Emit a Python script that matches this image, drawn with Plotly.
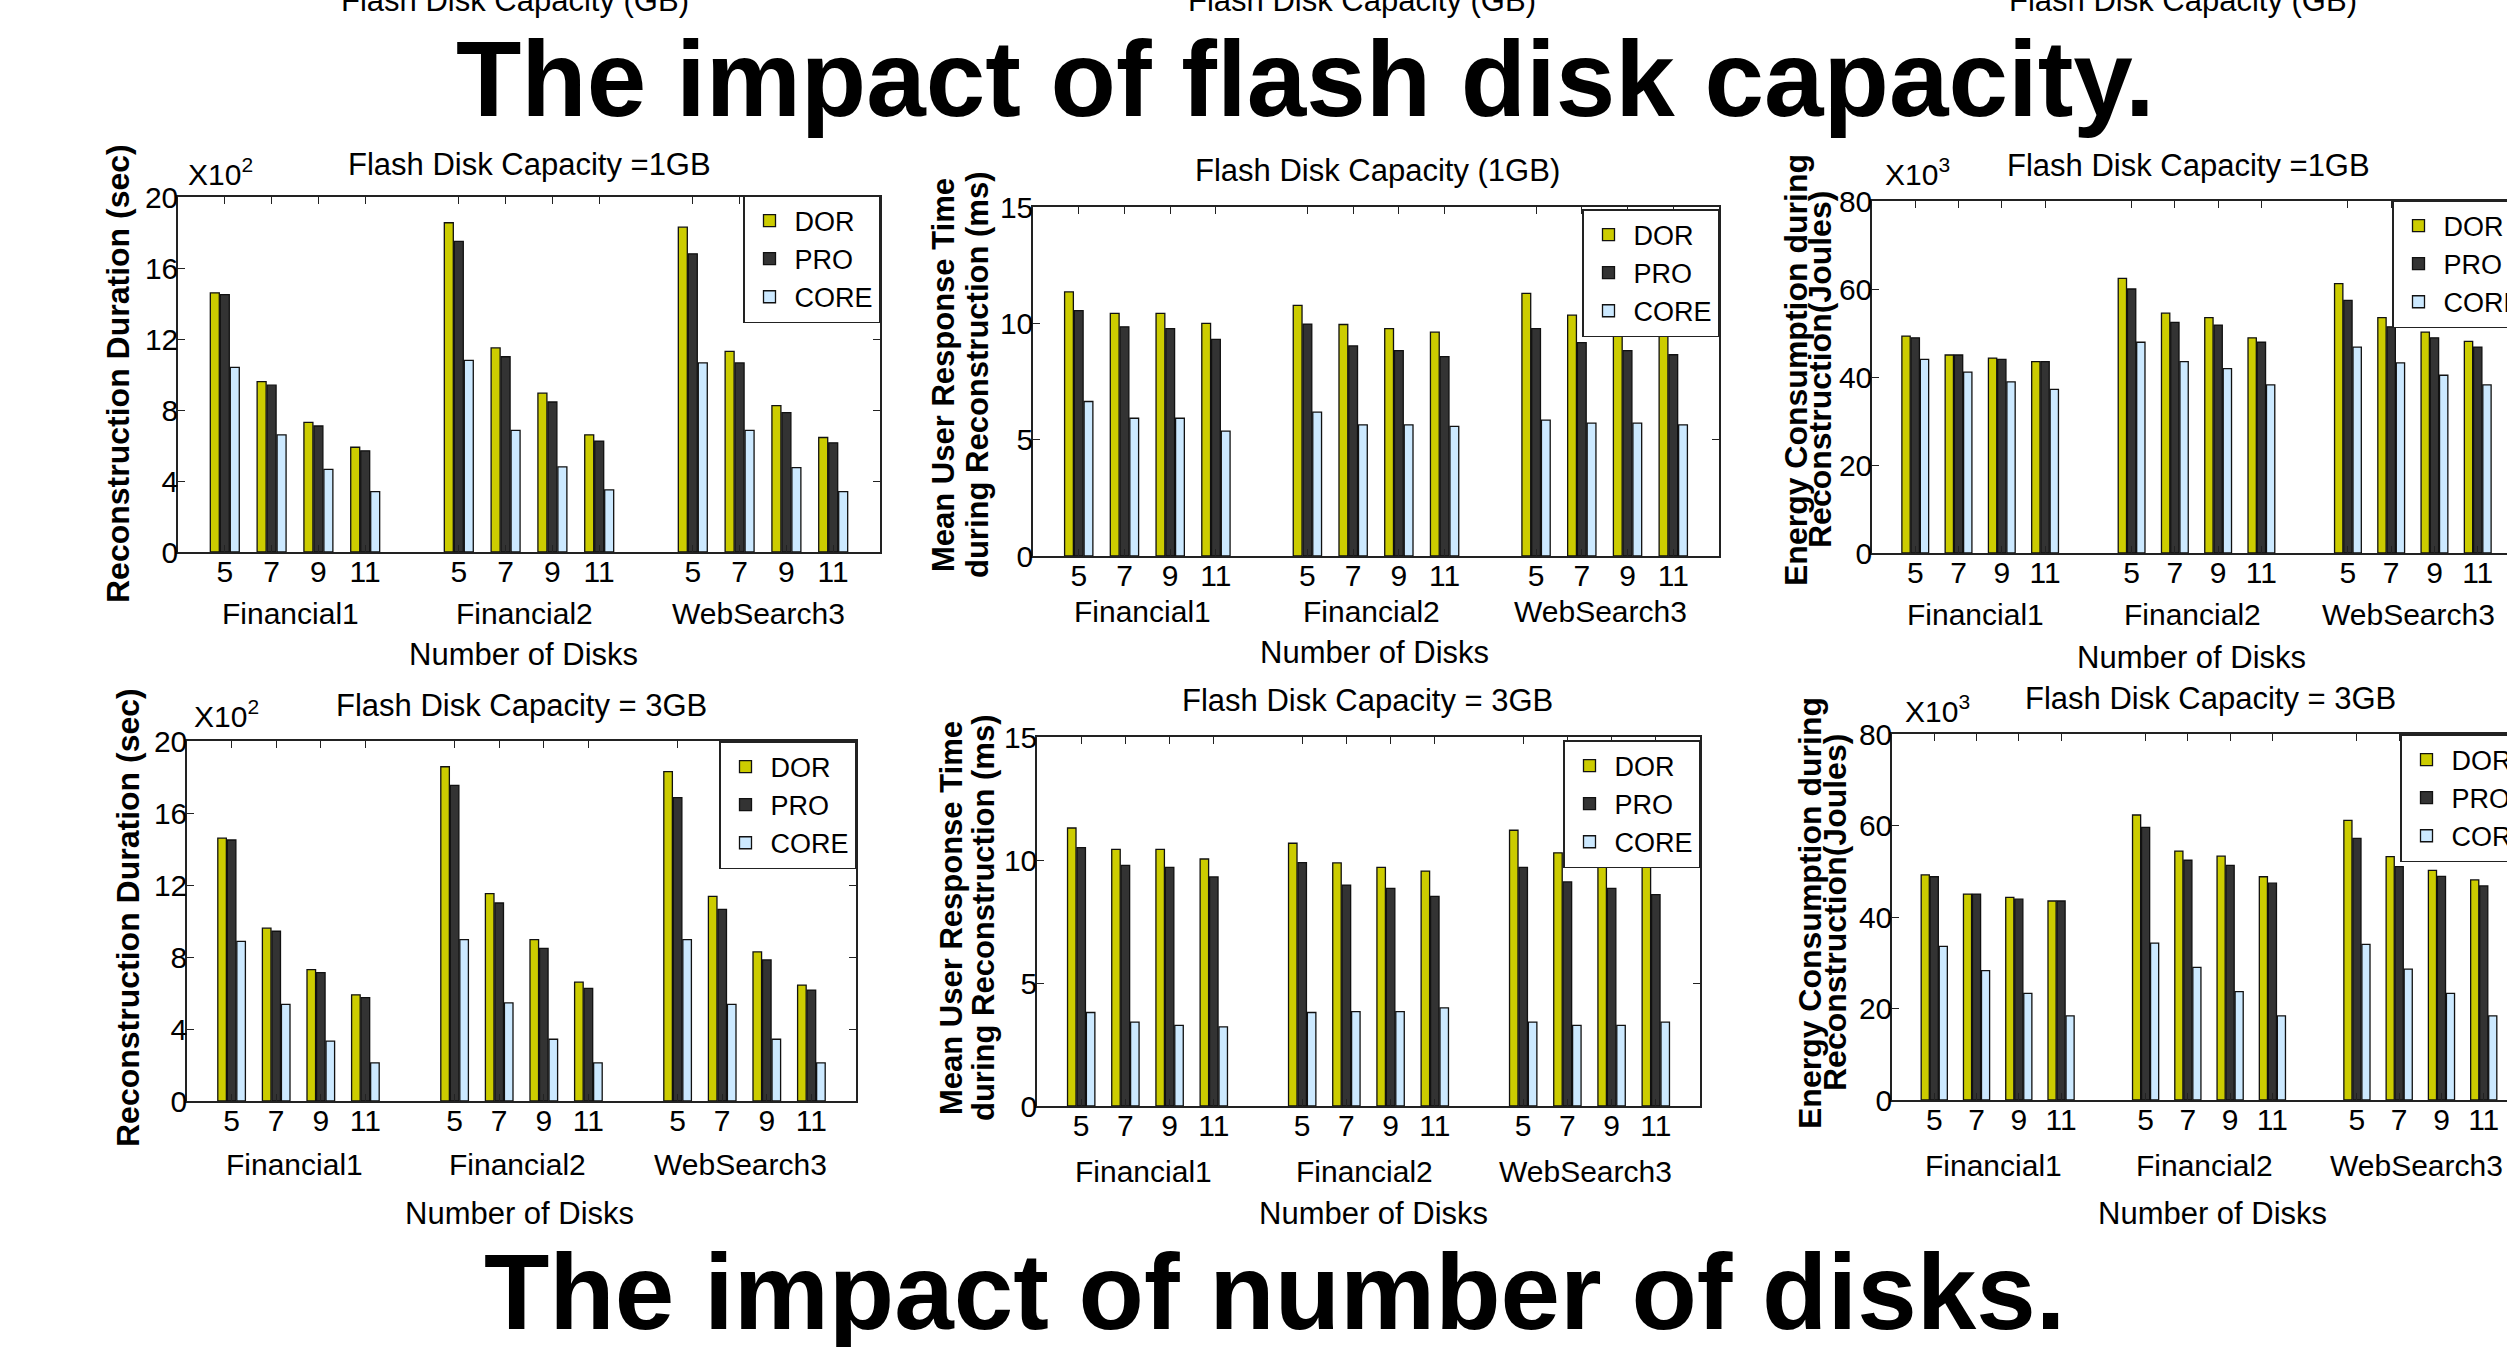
import plotly.graph_objects as go

W, H = 2507, 1347
FONT = "Liberation Sans, Arial, sans-serif"

# ---------------- data ----------------
workloads = ["Financial1", "Financial2", "WebSearch3"]
disk_counts = [5, 7, 9, 11]
schemes = ["DOR", "PRO", "CORE"]
scheme_colors = ["#CCCC00", "#333333", "#CCE9FF"]

# Reconstruction duration (x10^2 sec)
recon_1gb_dor = [14.6, 9.6, 7.3, 5.9, 18.55, 11.5, 8.95, 6.6, 18.3, 11.3, 8.25, 6.45]
recon_1gb_pro = [14.5, 9.4, 7.1, 5.7, 17.5, 11.0, 8.45, 6.25, 16.8, 10.65, 7.85, 6.15]
recon_1gb_core = [10.4, 6.6, 4.65, 3.4, 10.8, 6.85, 4.8, 3.5, 10.65, 6.85, 4.75, 3.4]
recon_3gb_dor = [14.6, 9.6, 7.3, 5.9, 18.57, 11.52, 8.97, 6.6, 18.3, 11.37, 8.28, 6.44]
recon_3gb_pro = [14.5, 9.43, 7.13, 5.74, 17.54, 11.0, 8.48, 6.26, 16.85, 10.65, 7.84, 6.16]
recon_3gb_core = [8.87, 5.37, 3.33, 2.12, 8.97, 5.45, 3.43, 2.12, 8.97, 5.37, 3.43, 2.12]

# Mean user response time during reconstruction (ms)
resp_1gb_dor = [11.35, 10.43, 10.43, 10.0, 10.77, 9.95, 9.77, 9.62, 11.29, 10.35, 10.0, 9.95]
resp_1gb_pro = [10.55, 9.85, 9.77, 9.31, 9.97, 9.03, 8.83, 8.57, 9.77, 9.17, 8.83, 8.65]
resp_1gb_core = [6.64, 5.92, 5.92, 5.37, 6.18, 5.64, 5.64, 5.57, 5.84, 5.71, 5.71, 5.64]
resp_3gb_dor = [11.3, 10.43, 10.43, 10.04, 10.68, 9.88, 9.7, 9.55, 11.21, 10.29, 10.04, 9.89]
resp_3gb_pro = [10.5, 9.78, 9.7, 9.31, 9.89, 8.98, 8.85, 8.52, 9.7, 9.11, 8.85, 8.59]
resp_3gb_core = [3.8, 3.41, 3.28, 3.22, 3.8, 3.84, 3.84, 3.99, 3.41, 3.28, 3.28, 3.41]

# Energy consumption during reconstruction (x10^3 Joules)
energy_1gb_dor = [49.3, 45.0, 44.3, 43.5, 62.4, 54.5, 53.5, 48.9, 61.2, 53.5, 50.2, 48.1]
energy_1gb_pro = [48.9, 45.0, 44.0, 43.5, 60.0, 52.4, 51.8, 47.9, 57.4, 51.4, 48.9, 46.8]
energy_1gb_core = [44.0, 41.1, 38.9, 37.2, 47.9, 43.5, 41.9, 38.2, 46.8, 43.2, 40.4, 38.2]
energy_3gb_dor = [49.2, 45.0, 44.3, 43.5, 62.3, 54.4, 53.3, 48.8, 61.1, 53.2, 50.2, 48.1]
energy_3gb_pro = [48.8, 45.0, 43.9, 43.5, 59.6, 52.4, 51.3, 47.4, 57.2, 51.0, 48.9, 46.8]
energy_3gb_core = [33.6, 28.3, 23.3, 18.4, 34.3, 29.0, 23.7, 18.4, 34.0, 28.6, 23.3, 18.4]

recon_ticks = [0, 4, 8, 12, 16, 20]
resp_ticks = [0, 5, 10, 15]
energy_ticks = [0, 20, 40, 60, 80]

panel_titles = ["Flash Disk Capacity =1GB", "Flash Disk Capacity (1GB)", "Flash Disk Capacity =1GB",
                "Flash Disk Capacity = 3GB", "Flash Disk Capacity = 3GB", "Flash Disk Capacity = 3GB"]
main_title_top = "The impact of flash disk capacity."
main_title_bottom = "The impact of number of disks."
upper_cut_label = "Flash Disk Capacity (GB)"
xlabel = "Number of Disks"

# ---------------- layout geometry (pixels) ----------------
def px(x):
    return x / W

def py(y):
    return 1 - y / H

n_d = len(disk_counts)
positions = [g * (n_d + 1) + d + 1 for g in range(len(workloads)) for d in range(n_d)]
group_centers = [g * (n_d + 1) + (n_d + 1) / 2 for g in range(len(workloads))]
full_range = len(workloads) * (n_d + 1)

panels = [
    dict(vals=[recon_1gb_dor, recon_1gb_pro, recon_1gb_core], yt=recon_ticks,
         box=(178, 880, 197, 552), full_r=880, expo=("2", 186, 193),
         ytitle=[("Reconstruction Duration (sec)", 118, 32)], ymid=374,
         leg=(880, 195, "right"), title=(529, 164),
         grp_y=613, xl=(523, 655)),
    dict(vals=[resp_1gb_dor, resp_1gb_pro, resp_1gb_core], yt=resp_ticks,
         box=(1033, 1719, 207, 556), full_r=1719, expo=None,
         ytitle=[("Mean User Response Time", 944, 31), ("during Reconstruction (ms)", 978, 31)], ymid=375,
         leg=(1719, 209, "right"), title=(1377, 171),
         grp_y=612, xl=(1374, 652)),
    dict(vals=[energy_1gb_dor, energy_1gb_pro, energy_1gb_core], yt=energy_ticks,
         box=(1872, 2507, 201, 553), full_r=2521, expo=("3", 1883, 193),
         ytitle=[("Energy Consumption during", 1796, 32), ("Reconstruction(Joules)", 1820, 32)], ymid=370,
         leg=(2392, 200, "left"), title=(2188, 165),
         grp_y=614, xl=(2191, 657)),
    dict(vals=[recon_3gb_dor, recon_3gb_pro, recon_3gb_core], yt=recon_ticks,
         box=(187, 856, 741, 1101), full_r=856, expo=("2", 192, 735),
         ytitle=[("Reconstruction Duration (sec)", 128, 32)], ymid=917,
         leg=(856, 741, "right"), title=(521, 705),
         grp_y=1164, xl=(519, 1213)),
    dict(vals=[resp_3gb_dor, resp_3gb_pro, resp_3gb_core], yt=resp_ticks,
         box=(1037, 1700, 737, 1106), full_r=1700, expo=None,
         ytitle=[("Mean User Response Time", 951, 31), ("during Reconstruction (ms)", 983, 31)], ymid=918,
         leg=(1700, 740, "right"), title=(1367, 700),
         grp_y=1171, xl=(1373, 1213)),
    dict(vals=[energy_3gb_dor, energy_3gb_pro, energy_3gb_core], yt=energy_ticks,
         box=(1892, 2507, 734, 1100), full_r=2526, expo=("3", 1903, 730),
         ytitle=[("Energy Consumption during", 1810, 32), ("Reconstruction(Joules)", 1835, 32)], ymid=913,
         leg=(2400, 734, "left"), title=(2210, 698),
         grp_y=1165, xl=(2212, 1213)),
]

fig = go.Figure()
annotations = []
layout_axes = {}

axis_common = dict(showline=True, linecolor="#222222", linewidth=1.5, ticks="inside",
                   ticklen=7, tickwidth=1.2, tickcolor="#222222", showgrid=False,
                   zeroline=False, tickfont=dict(family=FONT, size=30, color="black"),
                   ticklabelstandoff=-8)

for i, p in enumerate(panels, start=1):
    sfx = "" if i == 1 else str(i)
    leg_id = "legend" if i == 1 else f"legend{i}"
    l, r, t, b = p["box"]
    clipped = r < p["full_r"]
    xmax = full_range * (r - l) / (p["full_r"] - l)

    for s, color, vals in zip(schemes, scheme_colors, p["vals"]):
        fig.add_trace(go.Bar(
            x=positions, y=vals, name=s,
            marker=dict(color=color, line=dict(color="#111111", width=1.3)),
            xaxis=f"x{sfx}", yaxis=f"y{sfx}", legend=leg_id, showlegend=True,
        ))

    layout_axes[f"xaxis{sfx}"] = dict(
        axis_common, domain=[px(l), px(r)], anchor=f"y{sfx}", range=[0, xmax],
        tickmode="array", tickvals=positions,
        ticktext=[str(n) for _ in workloads for n in disk_counts],
        mirror="ticks")
    layout_axes[f"yaxis{sfx}"] = dict(
        axis_common, domain=[py(b), py(t)], anchor=f"x{sfx}",
        range=[p["yt"][0], p["yt"][-1]], tickmode="array", tickvals=p["yt"],
        mirror=(False if clipped else "ticks"))

    lx, ly, anchor = p["leg"]
    layout_axes[leg_id] = dict(
        x=px(lx), y=py(ly), xanchor=anchor, yanchor="top",
        bgcolor="white", bordercolor="#222222", borderwidth=1.5,
        font=dict(family=FONT, size=27, color="black"),
        itemwidth=40, tracegroupgap=0, itemclick=False, itemdoubleclick=False)

    # panel title
    tx, ty = p["title"]
    annotations.append(dict(text=panel_titles[i - 1], x=px(tx), y=py(ty), xref="paper", yref="paper",
                            xanchor="center", yanchor="middle", showarrow=False,
                            font=dict(family=FONT, size=31, color="black")))
    # exponent label
    if p["expo"]:
        e, ex, ey = p["expo"]
        annotations.append(dict(text=f"X10<sup>{e}</sup>", x=px(ex), y=py(ey), xref="paper", yref="paper",
                                xanchor="left", yanchor="bottom", showarrow=False,
                                font=dict(family=FONT, size=30, color="black")))
    # y title lines
    for txt, yx, fs in p["ytitle"]:
        annotations.append(dict(text=f"<b>{txt}</b>", x=px(yx), y=py(p["ymid"]), xref="paper", yref="paper",
                                xanchor="center", yanchor="middle", textangle=-90, showarrow=False,
                                font=dict(family=FONT, size=fs, color="black")))
    # workload group labels
    for wname, gc in zip(workloads, group_centers):
        annotations.append(dict(text=wname, x=gc - 0.1, y=py(p["grp_y"]), xref=f"x{sfx}", yref="paper",
                                xanchor="center", yanchor="middle", showarrow=False,
                                font=dict(family=FONT, size=30, color="black")))
    # x label
    xx, xy = p["xl"]
    annotations.append(dict(text=xlabel, x=px(xx), y=py(xy), xref="paper", yref="paper",
                            xanchor="center", yanchor="middle", showarrow=False,
                            font=dict(family=FONT, size=31, color="black")))

# cut-off labels from the row above
for cx in [515, 1362, 2183]:
    annotations.append(dict(text=upper_cut_label, x=px(cx), y=py(0), xref="paper", yref="paper",
                            xanchor="center", yanchor="middle", showarrow=False,
                            font=dict(family=FONT, size=31, color="black")))

# big headings
annotations.append(dict(text=f"<b>{main_title_top}</b>", x=px(1305), y=py(79), xref="paper", yref="paper",
                        xanchor="center", yanchor="middle", showarrow=False,
                        font=dict(family=FONT, size=107, color="black")))
annotations.append(dict(text=f"<b>{main_title_bottom}</b>", x=px(1274), y=py(1292), xref="paper", yref="paper",
                        xanchor="center", yanchor="middle", showarrow=False,
                        font=dict(family=FONT, size=107, color="black")))

fig.update_layout(
    width=W, height=H,
    margin=dict(l=0, r=0, t=0, b=0, autoexpand=False),
    paper_bgcolor="white", plot_bgcolor="white",
    barmode="group", bargap=0.36, bargroupgap=0.1,
    font=dict(family=FONT, color="black"),
    annotations=annotations,
    **layout_axes,
)

fig.write_html("out.html", config={"displayModeBar": False},
               post_script="document.body.style.margin='0px';")
